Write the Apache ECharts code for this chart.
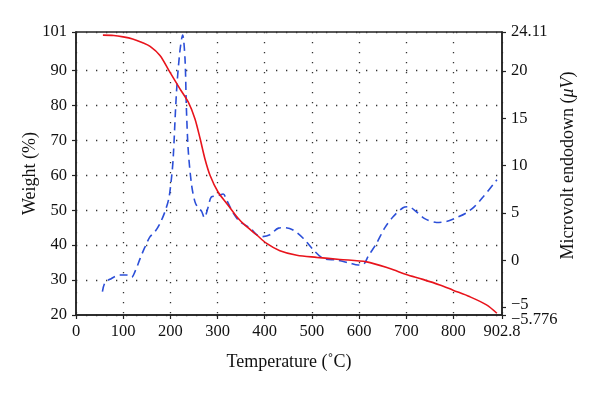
<!DOCTYPE html>
<html>
<head>
<meta charset="utf-8">
<script src="https://cdn.jsdelivr.net/npm/echarts@6/dist/echarts.min.js"></script>
<style>html,body{margin:0;padding:0;background:#fff}#c{width:600px;height:395px}</style>
</head>
<body>
<div id="c"></div>
<script>
// Weight (%) vs temperature (°C)
var weightTemp = [57,80,100,120,140,157,178,199,220,238,252,263,273,284,301,319,333,344,354,383,404,432,468,510,559,616,665,700,735,771,799,835,870,892];
var weightVal  = [100.1,100,99.6,99,98,96.9,94.3,89.5,84.8,80.9,76.2,70.5,64.8,60,55.2,52,49.5,47.6,46.2,42.9,40.5,38.4,37.1,36.5,35.9,35.2,33.3,31.6,30.2,28.6,27.1,25.2,22.9,20.5];
// Microvolt endodown (µV) vs temperature (°C)
var mvTemp = [56,61,72,93,107,118,125,136,146,157,167,178,189,197,203,206,213,220,226,231,234,238,245,252,259,266,272,280,287,300,312,319,333,347,369,383,394,411,429,443,460,482,503,524,552,580,598,610,619,637,654,672,693,704,722,739,764,785,806,827,845,863,892];
var mvVal  = [-3.3,-2.4,-2.0,-1.55,-1.55,-1.8,-1.2,0.2,1.4,2.5,3.0,3.9,5.2,6.6,9,10.8,17.8,22.0,23.8,21.3,16,11.5,7.95,6.2,5.5,5.2,4.5,5.6,6.7,6.8,7.0,6.4,5.0,4.1,3.4,2.7,2.5,2.7,3.4,3.45,3.2,2.3,1.1,0.2,0.03,-0.3,-0.5,-0.4,0.4,1.8,3.4,4.6,5.55,5.66,5.1,4.4,4.0,4.1,4.5,5.0,5.7,6.7,8.5];
// Tick labels
var xTicks = [0,100,200,300,400,500,600,700,800,902.8];
var yLeftTicks = [20,30,40,50,60,70,80,90,101];
var yRightTicks = [-5.776,-5,0,5,10,15,20,24.11];

function zip(a,b){return a.map(function(v,i){return [v,b[i]];});}
function minus(v){return String(v).replace('-','\u2212');}

var FONT = 'Liberation Serif';
var TICK_FS = 16.5, NAME_FS = 18;
var axisCol = '#222';
var rMin = yRightTicks[0], rMax = yRightTicks[yRightTicks.length-1];
// labels of the right axis except the -5 label (drawn by a companion axis so it is not hidden)
var rightMain = yRightTicks.filter(function(v){return v !== -5;});
var rightExtra = yRightTicks.filter(function(v){return v === -5;});

var chart = echarts.init(document.getElementById('c'), null, {renderer:'canvas'});
chart.setOption({
  animation:false,
  textStyle:{fontFamily:FONT},
  grid:{left:76,right:98,top:32,bottom:80,show:true,borderColor:axisCol,borderWidth:1.5,backgroundColor:'transparent'},
  xAxis:{
    type:'value',min:0,max:902.8,interval:100,
    name:'Temperature (\u02DAC)',nameLocation:'middle',nameGap:38,nameMoveOverlap:false,
    nameTextStyle:{fontFamily:FONT,fontSize:NAME_FS,color:'#111'},
    axisLine:{show:true,onZero:false,lineStyle:{color:axisCol,width:1.5}},
    axisTick:{show:true,length:4,customValues:xTicks,lineStyle:{color:axisCol,width:1.2}},
    axisLabel:{customValues:xTicks,showMinLabel:true,showMaxLabel:true,fontFamily:FONT,fontSize:TICK_FS,color:'#111',margin:8,
      formatter:function(v){return String(v);}},
    splitLine:{show:true,lineStyle:{color:'#333',width:1.3,type:[1.3,8.7]}}
  },
  yAxis:[{
    type:'value',min:20,max:101,interval:10,position:'left',
    name:'Weight (%)',nameLocation:'middle',nameGap:37,nameMoveOverlap:false,
    nameTextStyle:{fontFamily:FONT,fontSize:NAME_FS,color:'#111'},
    axisLine:{show:true,onZero:false,lineStyle:{color:axisCol,width:1.5}},
    axisTick:{show:true,length:4,customValues:yLeftTicks,lineStyle:{color:axisCol,width:1.2}},
    axisLabel:{customValues:yLeftTicks,showMinLabel:true,showMaxLabel:true,fontFamily:FONT,fontSize:TICK_FS,color:'#111',margin:9},
    splitLine:{show:true,lineStyle:{color:'#333',width:1.3,type:[1.3,8.7]}}
  },{
    type:'value',min:rMin,max:rMax,position:'right',
    name:'Microvolt endodown ({i|\u03BCV})',nameLocation:'middle',nameGap:57,nameMoveOverlap:false,
    nameTextStyle:{fontFamily:FONT,fontSize:NAME_FS,color:'#111',padding:[0,0,0,16],
      rich:{i:{fontFamily:FONT,fontSize:NAME_FS,fontStyle:'italic',color:'#111'}}},
    axisLine:{show:true,onZero:false,lineStyle:{color:axisCol,width:1.5}},
    axisTick:{show:true,length:4,customValues:yRightTicks,lineStyle:{color:axisCol,width:1.2}},
    axisLabel:{customValues:rightMain,showMinLabel:true,showMaxLabel:true,hideOverlap:false,fontFamily:FONT,fontSize:TICK_FS,color:'#111',margin:9,
      formatter:function(v){
        if (Math.abs(v-rMin)<1e-6) return '{lo|'+minus(v)+'}';
        return minus(v);
      },
      rich:{lo:{fontFamily:FONT,fontSize:TICK_FS,color:'#111',padding:[9,0,0,0]}}},
    splitLine:{show:false}
  },{
    type:'value',min:rMin,max:rMax,position:'right',
    axisLine:{show:false},axisTick:{show:false},splitLine:{show:false},
    axisLabel:{customValues:rightExtra,showMinLabel:true,showMaxLabel:true,fontFamily:FONT,fontSize:TICK_FS,color:'#111',margin:9,
      formatter:function(v){return '{hi|'+minus(v)+'}';},
      rich:{hi:{fontFamily:FONT,fontSize:TICK_FS,color:'#111',padding:[0,0,5,0]}}}
  }],
  series:[{
    type:'line',name:'Weight',yAxisIndex:0,data:zip(weightTemp,weightVal),
    smooth:0.3,symbol:'none',lineStyle:{color:'#e8141c',width:1.6},z:3
  },{
    type:'line',name:'Microvolt',yAxisIndex:1,data:zip(mvTemp,mvVal),
    smooth:0.3,symbol:'none',lineStyle:{color:'#2c4fd8',width:1.6,type:[8,5]},z:2
  }]
});
</script>
</body>
</html>
